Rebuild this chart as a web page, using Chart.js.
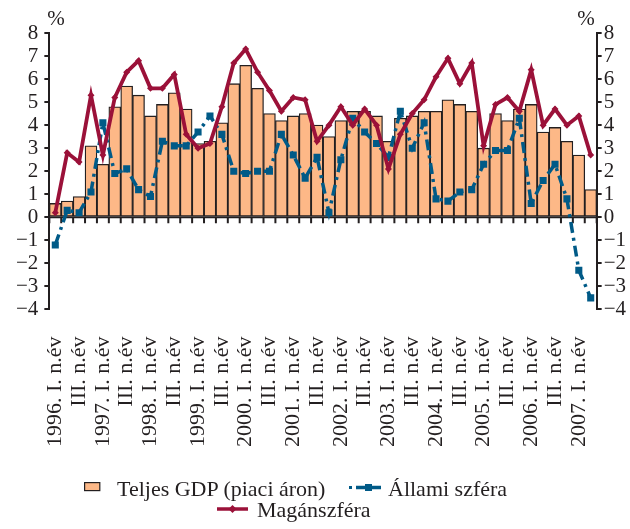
<!DOCTYPE html>
<html>
<head>
<meta charset="utf-8">
<script src="https://cdn.jsdelivr.net/npm/chart.js@4.4.1/dist/chart.umd.min.js"></script>
<style>
  html, body { margin: 0; padding: 0; background: #fff; }
  #wrap { position: relative; width: 630px; height: 529px; }
  #c { position: absolute; left: 0; top: 0; }
  .lg { position: absolute; font-family: "Liberation Serif", "Times New Roman", serif; font-size: 22px; color: #231f20; white-space: nowrap; line-height: 22px; }
  .sw { position: absolute; }
</style>
</head>
<body>
<div id="wrap">
  <canvas id="c" width="630" height="529"></canvas>
  <div id="legend"></div>
</div>
<script>
// ---- data ----
const quarterLabels = [
  "1996. I. n.év","II. n.év","III. n.év","IV. n.év",
  "1997. I. n.év","II. n.év","III. n.év","IV. n.év",
  "1998. I. n.év","II. n.év","III. n.év","IV. n.év",
  "1999. I. n.év","II. n.év","III. n.év","IV. n.év",
  "2000. I. n.év","II. n.év","III. n.év","IV. n.év",
  "2001. I. n.év","II. n.év","III. n.év","IV. n.év",
  "2002. I. n.év","II. n.év","III. n.év","IV. n.év",
  "2003. I. n.év","II. n.év","III. n.év","IV. n.év",
  "2004. I. n.év","II. n.év","III. n.év","IV. n.év",
  "2005. I. n.év","II. n.év","III. n.év","IV. n.év",
  "2006. I. n.év","II. n.év","III. n.év","IV. n.év",
  "2007. I. n.év","II. n.év"
];
const seriesNames = ["Teljes GDP (piaci áron)", "Állami szféra", "Magánszféra"];
const gdpTotal = [0.6,0.7,0.9,3.1,2.3, 4.8,5.7,5.3,4.4,4.9, 5.4,4.7,3.2,3.3,4.1, 5.8,6.6,5.6,4.5,4.2,
  4.4,4.5,4.0,3.5,4.2, 4.6,4.6,4.4,3.3,4.3, 4.4,4.6,4.6,5.1,4.9, 4.6,3.0,4.5,4.2,4.7, 4.9,3.7,3.9,3.3,2.7, 1.2];
const publicSector = [-1.2,0.3,0.2,1.1,4.1, 1.9,2.1,1.2,0.9,3.3, 3.1,3.1,3.7,4.4,3.6, 2.0,1.9,2.0,2.0,3.6,
  2.7,1.7,2.6,0.2,2.5, 4.3,3.7,3.2,2.6,4.6, 3.0,4.1,0.8,0.7,1.1, 1.2,2.3,2.9,2.9,4.3, 0.6,1.6,2.3,0.8,-2.3, -3.5];
const privateSector = [0.2,2.8,2.4,5.3,2.7, 5.2,6.3,6.8,5.6,5.6, 6.2,3.6,3.0,3.2,4.8, 6.7,7.3,6.3,5.5,4.6,
  5.2,5.1,3.3,4.0,4.8, 4.0,4.7,4.0,2.1,3.6, 4.5,5.1,6.1,6.9,5.8, 6.7,3.1,4.9,5.2,4.6, 6.4,4.0,4.7,4.0,4.4, 2.7];
const yMin = -4, yMax = 8, yStep = 1;
const unitLabel = "%";

// ---- styles ----
const FONT = '"Liberation Serif", "Times New Roman", serif';
const INK = '#231f20';
const BAR_FILL = '#fdb887';
const BLUE = '#005a87';
const RED = '#9b1139';

const axisDecor = {
  id: 'axisDecor',
  afterDatasetDraw(chart, args) {
    if (args.index !== 0) return;
    const {ctx, chartArea} = chart;
    const xs = chart.scales.x, ys = chart.scales.y;
    const y0 = ys.getPixelForValue(0);
    const step = xs.getPixelForValue(1) - xs.getPixelForValue(0);
    const start = xs.getPixelForValue(0) - step / 2;
    ctx.save();
    ctx.strokeStyle = INK;
    ctx.lineWidth = 2;
    ctx.beginPath();
    ctx.moveTo(chartArea.left, y0);
    ctx.lineTo(chartArea.right, y0);
    for (let i = 0; i <= quarterLabels.length; i++) {
      const x = start + i * step;
      ctx.moveTo(x, y0);
      ctx.lineTo(x, y0 + 6);
    }
    ctx.stroke();
    ctx.restore();
  },
  afterDraw(chart) {
    const {ctx, chartArea} = chart;
    ctx.save();
    ctx.fillStyle = INK;
    ctx.font = '21px ' + FONT;
    ctx.textBaseline = 'alphabetic';
    ctx.textAlign = 'left';
    ctx.fillText(unitLabel, chartArea.left - 2, 25);
    ctx.textAlign = 'right';
    ctx.fillText(unitLabel, chartArea.right - 2, 25);
    ctx.restore();
  }
};

const minus = v => String(v).replace('-', '\u2212');

const chart = new Chart(document.getElementById('c'), {
  data: {
    labels: quarterLabels,
    datasets: [
      { type: 'bar', label: seriesNames[0], data: gdpTotal, backgroundColor: BAR_FILL,
        borderColor: INK, borderWidth: 1.3, borderSkipped: false,
        categoryPercentage: 1.0, barPercentage: 1.0, order: 3, yAxisID: 'y' },
      { type: 'line', label: seriesNames[1], data: publicSector, borderColor: BLUE, backgroundColor: BLUE,
        borderWidth: 3.5, borderDash: [11, 5, 3, 5], borderCapStyle: 'butt', tension: 0,
        pointStyle: 'rect', pointRadius: 5, pointBorderWidth: 0, pointBackgroundColor: BLUE,
        order: 2, yAxisID: 'y' },
      { type: 'line', label: seriesNames[2], data: privateSector, borderColor: RED, backgroundColor: RED,
        borderWidth: 3.8, tension: 0,
        pointStyle: 'rectRot', pointRadius: 3.5, pointBorderWidth: 0, pointBackgroundColor: RED,
        order: 1, yAxisID: 'y' }
    ]
  },
  options: {
    responsive: false,
    animation: false,
    devicePixelRatio: 1,
    layout: { padding: { left: 10, right: 2, top: 33, bottom: 82 } },
    plugins: { legend: { display: false }, tooltip: { enabled: false } },
    scales: {
      x: {
        type: 'category', offset: true,
        grid: { display: true, drawOnChartArea: false, drawTicks: true, tickLength: 27, color: 'transparent', tickColor: 'transparent' },
        border: { display: false },
        ticks: {
          autoSkip: false, maxRotation: 90, minRotation: 90, padding: 0,
          color: INK, font: { family: FONT, size: 22 },
          callback: (v, i) => (i % 2 === 0 ? quarterLabels[i] : '')
        }
      },
      y: {
        position: 'left', min: yMin, max: yMax,
        ticks: { autoSkip: false, stepSize: yStep, padding: 6, color: INK, font: { family: FONT, size: 21 }, callback: minus },
        grid: { drawOnChartArea: false, drawTicks: true, tickLength: 5, color: INK, lineWidth: 2 },
        border: { display: true, color: INK, width: 2 }
      },
      y2: {
        position: 'right', min: yMin, max: yMax,
        ticks: { autoSkip: false, stepSize: yStep, padding: 2, color: INK, font: { family: FONT, size: 21 }, callback: minus },
        grid: { drawOnChartArea: false, drawTicks: true, tickLength: 5, color: INK, lineWidth: 2 },
        border: { display: true, color: INK, width: 2 }
      }
    }
  },
  plugins: [axisDecor]
});

// ---- HTML legend built from the chart's datasets ----
(function buildLegend() {
  const ds = chart.data.datasets;
  const lg = document.getElementById('legend');
  const items = [
    { sw: `<svg class="sw" style="left:84px;top:482px" width="17" height="10"><rect x="0.6" y="0.6" width="15.2" height="8" fill="${ds[0].backgroundColor}" stroke="${INK}" stroke-width="1.2"/></svg>`,
      text: ds[0].label, left: 117, top: 478 },
    { sw: `<svg class="sw" style="left:347px;top:481px" width="36" height="12"><rect x="2" y="5" width="3" height="3" fill="${ds[1].borderColor}"/><line x1="9" y1="6.5" x2="34" y2="6.5" stroke="${ds[1].borderColor}" stroke-width="3.5"/><rect x="18" y="3" width="7" height="7" fill="${ds[1].borderColor}"/></svg>`,
      text: ds[1].label, left: 388, top: 478 },
    { sw: `<svg class="sw" style="left:217px;top:503px" width="32" height="12"><line x1="0" y1="6" x2="31" y2="6" stroke="${ds[2].borderColor}" stroke-width="3.5"/><polygon points="15.5,2 19.5,6 15.5,10 11.5,6" fill="${ds[2].borderColor}"/></svg>`,
      text: ds[2].label, left: 257, top: 499 }
  ];
  lg.innerHTML = items.map(it => it.sw + `<div class="lg" style="left:${it.left}px;top:${it.top}px">${it.text}</div>`).join('');
})();
</script>
</body>
</html>
